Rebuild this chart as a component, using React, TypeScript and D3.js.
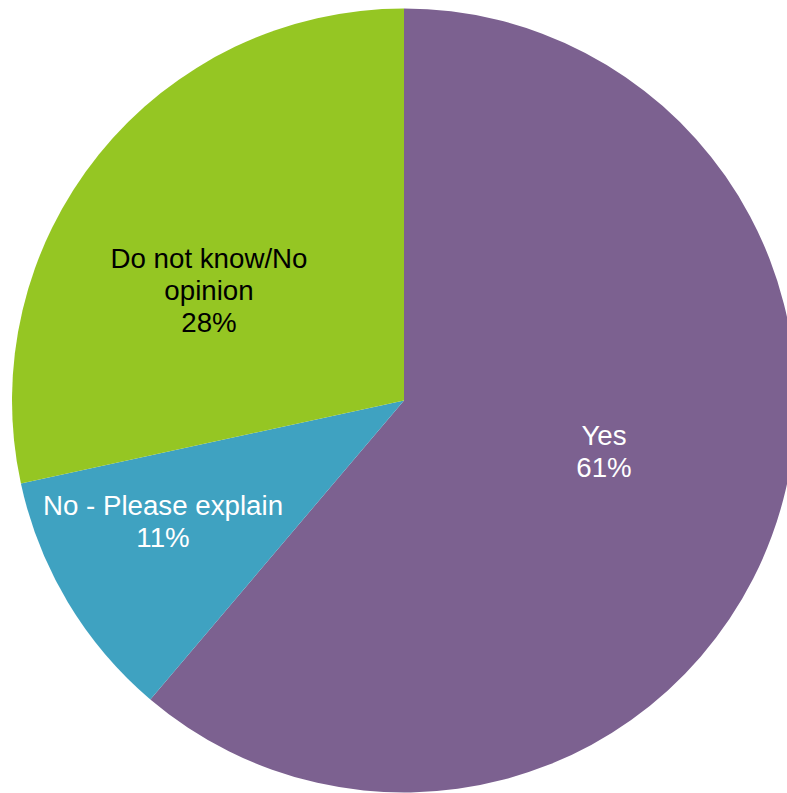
import React from "react";
import * as d3 from "d3";

const categories = ["Yes", "No - Please explain", "Do not know/No opinion"];
const values = [61.2, 10.4, 28.4];
const percentLabels = ["61%", "11%", "28%"];
const labelLines = [["Yes"], ["No - Please explain"], ["Do not know/No", "opinion"]];
const colors = ["#7C6190", "#3FA2C1", "#95C623"];
const textColors = ["#FFFFFF", "#FFFFFF", "#000000"];

// layout (label block centers relative to pie center, in px)
const labelOffsets = [
  { x: 200, y: 51 },
  { x: -241, y: 121 },
  { x: -195, y: -110 },
];

const W = 787;
const H = 793;
const CX = 404;
const CY = 400.5;
const R = 392;
const FONT = 27.7;
const LINE = 31.8;

export default function App() {
  const pie = d3
    .pie<number>()
    .sort(null)
    .startAngle(0)
    .endAngle(2 * Math.PI)
    .value((d) => d);
  const arcs = pie(values);
  const arcGen = d3.arc<d3.PieArcDatum<number>>().innerRadius(0).outerRadius(R);

  return (
    <svg
      width={W}
      height={H}
      style={{ position: "fixed", left: 0, top: 0, background: "#fff" }}
      fontFamily="Arial, 'Liberation Sans', sans-serif"
    >
      <g transform={`translate(${CX},${CY})`}>
        {arcs.map((a, i) => (
          <path key={categories[i]} d={arcGen(a) || ""} fill={colors[i]} />
        ))}
        {arcs.map((a, i) => {
          const lines = [...labelLines[i], percentLabels[i]];
          const n = lines.length;
          const off = labelOffsets[i];
          return (
            <text
              key={"t" + i}
              textAnchor="middle"
              fontSize={FONT}
              fill={textColors[i]}
            >
              {lines.map((l, j) => (
                <tspan
                  key={j}
                  x={off.x}
                  y={off.y + (j - (n - 1) / 2) * LINE}
                  dominantBaseline="central"
                >
                  {l}
                </tspan>
              ))}
            </text>
          );
        })}
      </g>
    </svg>
  );
}
